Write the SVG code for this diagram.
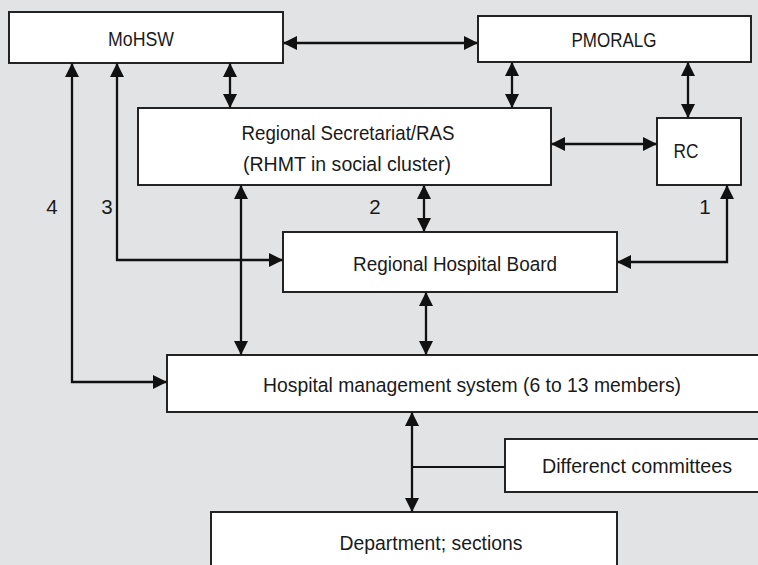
<svg xmlns="http://www.w3.org/2000/svg" width="758" height="565" viewBox="0 0 758 565">
<style>
.bg{fill:#e2e3e5}
.box{fill:#ffffff;stroke:#1a1a1a;stroke-width:1.9}
.t{font-family:"Liberation Sans",Arial,sans-serif;font-size:20.5px;fill:#1a1a1a;text-anchor:middle}
.c{fill:none;stroke:#111;stroke-width:2.3;marker-start:url(#ah);marker-end:url(#ah)}
.plain{fill:none;stroke:#111;stroke-width:1.9}
</style>
<defs>
<marker id="ah" markerUnits="userSpaceOnUse" markerWidth="14" markerHeight="14" refX="14" refY="7" orient="auto-start-reverse">
<path d="M0,0 L14,7 L0,14 z" fill="#111"/>
</marker>
</defs>
<rect class="bg" x="0" y="0" width="758" height="565"/>
<g id="connectors">
<line class="c" x1="283" y1="43" x2="478" y2="43"/>
<line class="c" x1="230" y1="63" x2="230" y2="108"/>
<line class="c" x1="512" y1="62" x2="512" y2="108"/>
<line class="c" x1="688" y1="62" x2="688" y2="118"/>
<line class="c" x1="551" y1="144" x2="657" y2="144"/>
<line class="c" x1="424" y1="185" x2="424" y2="232"/>
<line class="c" x1="241" y1="185" x2="241" y2="355"/>
<line class="c" x1="426" y1="292" x2="426" y2="355"/>
<path class="c" d="M617,262 H727 V185"/>
<path class="c" d="M117,63 V260 H283"/>
<path class="c" d="M72,63 V382 H167"/>
<line class="c" x1="412" y1="412" x2="412" y2="512"/>
<line class="plain" x1="412" y1="467" x2="505" y2="467"/>
<text class="t" x="52" y="214">4</text>
<text class="t" x="107" y="214">3</text>
<text class="t" x="375" y="214">2</text>
<text class="t" x="705" y="214">1</text>
</g>
<g id="mohsw">
<rect class="box" x="9" y="12" width="274" height="51"/>
<text class="t" x="141" y="46" textLength="66" lengthAdjust="spacingAndGlyphs">MoHSW</text>
</g>
<g id="pmoralg">
<rect class="box" x="478" y="16" width="273" height="46"/>
<text class="t" x="614" y="47" textLength="85" lengthAdjust="spacingAndGlyphs">PMORALG</text>
</g>
<g id="ras">
<rect class="box" x="138" y="108" width="413" height="77"/>
<text class="t" x="348" y="140" textLength="213" lengthAdjust="spacingAndGlyphs">Regional Secretariat/RAS</text>
<text class="t" x="347" y="171" textLength="208" lengthAdjust="spacingAndGlyphs">(RHMT in social cluster)</text>
</g>
<g id="rc">
<rect class="box" x="657" y="118" width="84" height="67"/>
<text class="t" x="686" y="158" textLength="25" lengthAdjust="spacingAndGlyphs">RC</text>
</g>
<g id="rhb">
<rect class="box" x="283" y="232" width="334" height="60"/>
<text class="t" x="455" y="271" textLength="204" lengthAdjust="spacingAndGlyphs">Regional Hospital Board</text>
</g>
<g id="hms">
<rect class="box" x="167" y="355" width="600" height="57"/>
<text class="t" x="472" y="392" textLength="418" lengthAdjust="spacingAndGlyphs">Hospital management system (6 to 13 members)</text>
</g>
<g id="committees">
<rect class="box" x="505" y="439" width="262" height="53"/>
<text class="t" x="637" y="473" textLength="190" lengthAdjust="spacingAndGlyphs">Differenct committees</text>
</g>
<g id="department">
<rect class="box" x="211" y="512" width="406" height="70"/>
<text class="t" x="431" y="550" textLength="183" lengthAdjust="spacingAndGlyphs">Department; sections</text>
</g>
</svg>
